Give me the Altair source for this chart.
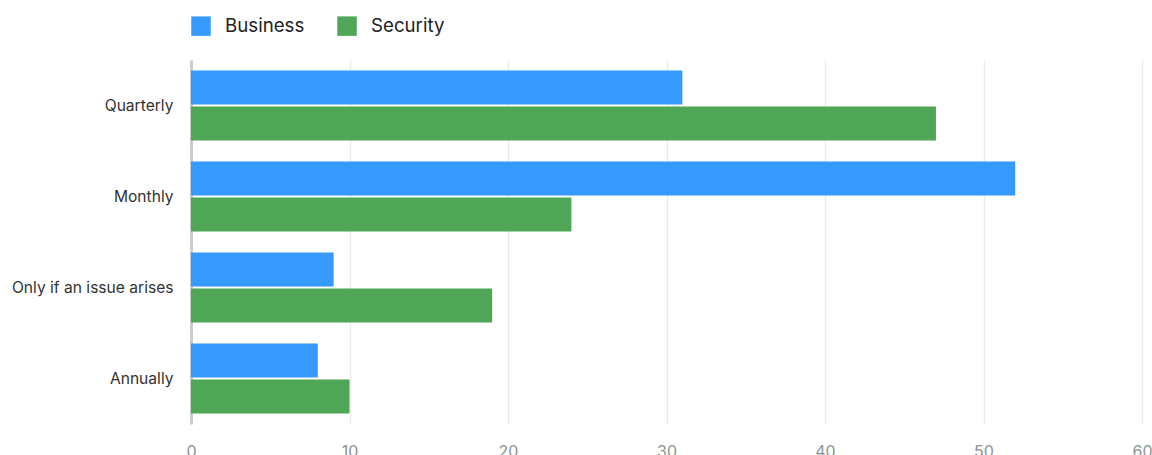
import altair as alt
import pandas as pd

categories = ["Quarterly", "Monthly", "Only if an issue arises", "Annually"]
series = ["Business", "Security"]
business = [31, 52, 9, 8]
security = [47, 24, 19, 10]

rows = []
for c, b, s in zip(categories, business, security):
    rows.append({"cat": c, "series": "Business", "value": b})
    rows.append({"cat": c, "series": "Security", "value": s})
df = pd.DataFrame(rows)

FONT = "Inter"

chart = alt.Chart(df).mark_bar().encode(
    y=alt.Y("cat:N", sort=categories, title=None,
            scale=alt.Scale(paddingInner=0.23, paddingOuter=0.115),
            axis=alt.Axis(domainColor="#cccccc", domainWidth=3, ticks=False,
                          labelFont=FONT, labelFontSize=15.6, labelColor="#333333",
                          labelPadding=18, grid=False)),
    yOffset=alt.YOffset("series:N", sort=series,
                        scale=alt.Scale(paddingInner=0.06, paddingOuter=0)),
    x=alt.X("value:Q", title=None,
            scale=alt.Scale(domain=[0, 60]),
            axis=alt.Axis(values=[0, 10, 20, 30, 40, 50, 60], domain=False, ticks=False,
                          labelFlush=False,
                          labelFont=FONT, labelFontSize=16, labelColor="#8a9494",
                          labelPadding=19, gridColor="#ebebeb", gridWidth=1.5)),
    color=alt.Color("series:N", sort=series,
                    scale=alt.Scale(domain=series, range=["#3599fe", "#4fa656"]),
                    legend=alt.Legend(orient="none", legendX=0, legendY=-44,
                                      direction="horizontal", title=None,
                                      symbolType="square", symbolSize=380,
                                      symbolStrokeWidth=0, symbolOpacity=1,
                                      labelFont=FONT, labelFontSize=18.7, labelColor="#222222",
                                      columnPadding=32, labelOffset=14)),
).properties(
    width=951, height=364,
    autosize=alt.AutoSizeParams(type="none"),
    padding={"left": 191, "top": 60, "right": 10, "bottom": 31},
).configure_view(stroke=None)

chart.save("out.html", embed_options={"renderer": "svg", "actions": False})
